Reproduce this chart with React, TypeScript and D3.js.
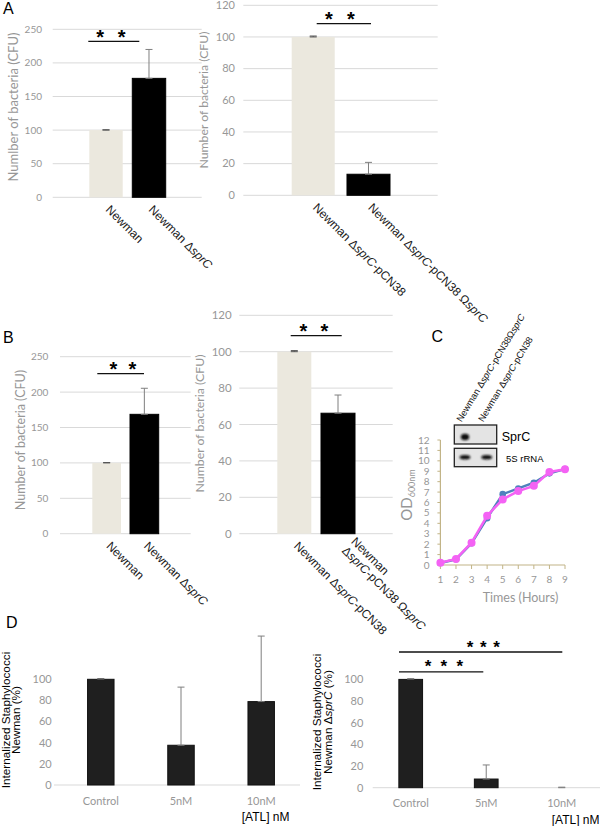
import React from 'react';
import * as d3 from 'd3';

// ---------- data ----------
const aLeftCats = ['Newman', 'Newman ΔsprC'];
const aLeftValues = [100, 177];
const aLeftErrors = [0.5, 43];

const aRightCats = ['Newman ΔsprC-pCN38', 'Newman ΔsprC-pCN38 ΩsprC'];
const aRightValues = [100, 13.3];
const aRightErrors = [0.6, 7.5];

const bLeftCats = ['Newman', 'Newman ΔsprC'];
const bLeftValues = [100, 168.6];
const bLeftErrors = [0.5, 36.8];

const bRightCats = ['Newman ΔsprC-pCN38', 'Newman\nΔsprC-pCN38 ΩsprC'];
const bRightValues = [100, 66.2];
const bRightErrors = [0.6, 10];

const ticks250 = [0, 50, 100, 150, 200, 250];
const ticks120 = [0, 20, 40, 60, 80, 100, 120];
const ticksPct = [0, 20, 40, 60, 80, 100];

const cHours = [1, 2, 3, 4, 5, 6, 7, 8, 9];
const cBlue = [0.2, 0.55, 2.1, 4.5, 6.8, 7.35, 7.9, 8.8, 9.2];
const cMagenta = [0.22, 0.58, 2.14, 4.73, 6.3, 7.1, 7.6, 8.93, 9.2];
const odTicks = [0, 1, 2, 3, 4, 5, 6, 7, 8, 9, 10, 11, 12];
const blotLanes = ['Newman ΔsprC-pCN38ΩsprC', 'Newman ΔsprC-pCN38'];

const dCats = ['Control', '5nM', '10nM'];
const dLeftValues = [100, 37.6, 78.9];
const dLeftErrors = [0.5, 55, 62];
const dRightValues = [100, 8, 0];
const dRightErrors = [0.5, 13, 0.5];

// ---------- styles ----------
const F_TICK = 'Lato, "Open Sans", sans-serif';
const F_ARIAL = '"Liberation Sans", Arial, sans-serif';
const GRAY = '#979797';
const GRID = '#d9d9d9';
const BEIGE = '#ebe8de';
const ERR = '#7f7f7f';

function Rich({ s }: { s: string }) {
  const parts = s.split(/(sprC)/);
  return (
    <>
      {parts.map((p, i) =>
        p === 'sprC' ? (
          <tspan key={i} fontStyle="italic">{p}</tspan>
        ) : (
          <tspan key={i}>{p}</tspan>
        )
      )}
    </>
  );
}

function Sig({ x1, x2, y, n, cx, spacing, size }: any) {
  const stars = d3.range(n).map((i) => cx + (i - (n - 1) / 2) * spacing);
  return (
    <g>
      <line x1={x1} x2={x2} y1={y} y2={y} stroke="#111" strokeWidth={1.3} />
      {stars.map((sx, i) => (
        <text key={i} x={sx} y={y - 8.7} dy="0.55em" textAnchor="middle" fontFamily={F_ARIAL}
          fontWeight="bold" fontSize={size} fill="#000">*</text>
      ))}
    </g>
  );
}

function ErrorBar({ cx, yv, ye, color }: any) {
  return (
    <g stroke={color} strokeWidth={1}>
      <line x1={cx} x2={cx} y1={yv} y2={ye} />
      <line x1={cx - 3.5} x2={cx + 3.5} y1={yv} y2={yv} />
      <line x1={cx - 3.5} x2={cx + 3.5} y1={ye} y2={ye} />
    </g>
  );
}

type CFUProps = {
  cats: string[]; values: number[]; errors: number[]; ticks: number[];
  yMax: number; y0: number; yTop: number;
  gridX1: number; gridX2: number; barX1: number; barX2: number; pad: number;
  tickRight: number; tickSize: number;
  title: string; titleX: number; titleY: number; titleSize: number;
  labelOffsets: [number, number][];
  sig: { v: number; x1: number; x2: number; cx: number; spacing: number };
};

function CFUPanel(p: CFUProps) {
  const y = d3.scaleLinear().domain([0, p.yMax]).range([p.y0, p.yTop]);
  const x = d3.scaleBand<string>().domain(p.cats).range([p.barX1, p.barX2]).paddingInner(p.pad);
  const bw = x.bandwidth();
  const colors = [BEIGE, '#000'];
  return (
    <g>
      {p.ticks.map((t) => (
        <line key={'g' + t} x1={p.gridX1} x2={p.gridX2} y1={y(t)} y2={y(t)} stroke={GRID} strokeWidth={1} />
      ))}
      {p.ticks.map((t) => (
        <text key={'t' + t} x={p.tickRight} y={y(t)} dy="0.35em" textAnchor="end"
          fontFamily={F_TICK} fontSize={p.tickSize} fill={GRAY}>{t}</text>
      ))}
      <text transform={`translate(${p.titleX},${p.titleY}) rotate(-90)`} dy="0.35em" textAnchor="middle"
        fontFamily={F_TICK} fontSize={p.titleSize} fill={GRAY}>{p.title}</text>
      {p.cats.map((c, i) => (
        <rect key={'b' + c} x={x(c)} y={y(p.values[i])} width={bw} height={p.y0 - y(p.values[i])}
          fill={colors[i]} stroke={i === 1 ? '#000' : 'none'} />
      ))}
      {p.cats.map((c, i) => (
        <ErrorBar key={'e' + c} cx={(x(c) as number) + bw / 2} yv={y(p.values[i])}
          ye={y(p.values[i] + p.errors[i])} color={i === 0 ? '#555' : ERR} />
      ))}
      {p.cats.map((c, i) => {
        const cx = (x(c) as number) + bw / 2;
        const [dx, dy] = p.labelOffsets[i];
        const lines = c.split('\n');
        return (
          <text key={'l' + c} transform={`translate(${cx + dx},${p.y0 + dy}) rotate(45)`}
            fontFamily={F_ARIAL} fontSize={12} fill="#1a1a1a">
            {lines.map((ln, li) => (
              <tspan key={li} x={0} dy={li === 0 ? 0 : 13}><Rich s={ln} /></tspan>
            ))}
          </text>
        );
      })}
      <Sig x1={p.sig.x1} x2={p.sig.x2} y={y(p.sig.v)} n={2} cx={p.sig.cx} spacing={p.sig.spacing} size={20} />
    </g>
  );
}

function GrowthPanel() {
  const x = d3.scaleLinear().domain([1, 9]).range([440.4, 565]);
  const y = d3.scaleLinear().domain([0, 12]).range([565, 440]);
  const line = d3.line<number>().x((_, i) => x(cHours[i])).y((d) => y(d));
  const AX = '#c2b487';
  const laneX = [465, 486.7];
  return (
    <g>
      <defs>
        <filter id="blur" x="-50%" y="-50%" width="200%" height="200%">
          <feGaussianBlur stdDeviation="1.1" />
        </filter>
      </defs>
      <line x1={x(1)} x2={x(1)} y1={y(12)} y2={y(0)} stroke={AX} strokeWidth={1.2} />
      <line x1={x(1)} x2={x(9)} y1={y(0)} y2={y(0)} stroke={AX} strokeWidth={1.2} />
      {odTicks.map((t) => (
        <g key={'y' + t}>
          <line x1={x(1) - 3} x2={x(1)} y1={y(t)} y2={y(t)} stroke={AX} />
          <text x={429.5} y={y(t)} dy="0.35em" textAnchor="end" fontFamily={F_TICK} fontSize={10} fill={GRAY}>{t}</text>
        </g>
      ))}
      {cHours.map((h) => (
        <g key={'x' + h}>
          <line x1={x(h)} x2={x(h)} y1={y(0)} y2={y(0) + 4} stroke={AX} />
          <text x={x(h)} y={583} textAnchor="middle" fontFamily={F_TICK} fontSize={10} fill={GRAY}>{h}</text>
        </g>
      ))}
      <text x={520.5} y={601.5} textAnchor="middle" fontFamily={F_TICK} fontSize={12.5} fill={GRAY}>Times (Hours)</text>
      <text transform="translate(411.5,495) rotate(-90)" textAnchor="middle" fontFamily={F_TICK} fontSize={15} fill={GRAY}>
        OD<tspan fontSize={9} dy={3}>600nm</tspan>
      </text>
      <path d={line(cBlue) as string} fill="none" stroke="#4f81bd" strokeWidth={2.5} />
      {cBlue.map((v, i) => (
        <circle key={'cb' + i} cx={x(cHours[i])} cy={y(v)} r={3.3} fill="#4f81bd" />
      ))}
      <path d={line(cMagenta) as string} fill="none" stroke="#f462f4" strokeWidth={2.5} />
      {cMagenta.map((v, i) => (
        <circle key={'cm' + i} cx={x(cHours[i])} cy={y(v)} r={4} fill="#f462f4" />
      ))}
      <rect x={454.3} y={425} width={42.4} height={19} fill="#e4e4e4" stroke="#222" strokeWidth={1.3} />
      <rect x={454.3} y={448.3} width={42.4} height={18.4} fill="#e4e4e4" stroke="#222" strokeWidth={1.3} />
      <ellipse cx={laneX[0]} cy={437} rx={4.2} ry={3.3} fill="#111" filter="url(#blur)" />
      {laneX.map((lx, i) => (
        <ellipse key={'band' + i} cx={lx} cy={457.3} rx={5.3} ry={2.2} fill="#111" filter="url(#blur)" />
      ))}
      <text x={501.7} y={441} fontFamily={F_ARIAL} fontSize={12.5} fill="#000">SprC</text>
      <text x={506} y={461.5} fontFamily={F_ARIAL} fontSize={9.5} fill="#000">5S rRNA</text>
      {blotLanes.map((l, i) => (
        <text key={'lane' + i} transform={`translate(${laneX[i] - 3.5},${422.5}) rotate(-59)`}
          fontFamily={F_ARIAL} fontSize={9.3} fill="#111"><Rich s={l} /></text>
      ))}
    </g>
  );
}

type DProps = {
  values: number[]; errors: number[]; y0: number; yTop: number;
  baseX1: number; baseX2: number; catX1: number; catX2: number; padInner: number;
  tickRight: number; labelY: number; atlX: number; atlY: number;
  titleLines: string[]; titleX: number[]; titleY: number;
  sigs?: { v: number; x1: number; x2: number; cx: number; spacing: number }[];
};

function DPanel(p: DProps) {
  const y = d3.scaleLinear().domain([0, 100]).range([p.y0, p.yTop]);
  const x = d3.scaleBand<string>().domain(dCats).range([p.catX1, p.catX2])
    .paddingInner(p.padInner).paddingOuter(p.padInner / 2);
  const bw = x.bandwidth();
  return (
    <g>
      <line x1={p.baseX1} x2={p.baseX2} y1={p.y0} y2={p.y0} stroke={GRID} strokeWidth={1} />
      {ticksPct.map((t) => (
        <text key={'t' + t} x={p.tickRight} y={y(t)} dy="0.35em" textAnchor="end"
          fontFamily={F_TICK} fontSize={11} fill={GRAY}>{t}</text>
      ))}
      {dCats.map((c, i) => (
        p.values[i] > 0 ? (
          <rect key={'b' + c} x={x(c)} y={y(p.values[i])} width={bw} height={p.y0 - y(p.values[i])}
            fill="#1f1f1f" stroke="#111" />
        ) : null
      ))}
      {dCats.map((c, i) => (
        <ErrorBar key={'e' + c} cx={(x(c) as number) + bw / 2} yv={y(p.values[i])}
          ye={y(p.values[i] + p.errors[i])} color={i === 0 ? '#555' : ERR} />
      ))}
      {dCats.map((c) => (
        <text key={'l' + c} x={(x(c) as number) + bw / 2} y={p.labelY} textAnchor="middle"
          fontFamily={F_TICK} fontSize={11} fill={GRAY}>{c}</text>
      ))}
      <text x={p.atlX} y={p.atlY} fontFamily={F_ARIAL} fontSize={12} fill="#000">[ATL] nM</text>
      {p.titleLines.map((t, i) => (
        <text key={'tt' + i} transform={`translate(${p.titleX[i]},${p.titleY}) rotate(-90)`} dy="0.35em"
          textAnchor="middle" fontFamily={F_ARIAL} fontSize={11.75} fill="#000"><Rich s={t} /></text>
      ))}
      {(p.sigs || []).map((s, i) => (
        <Sig key={'s' + i} x1={s.x1} x2={s.x2} y={y(s.v)} n={3} cx={s.cx} spacing={s.spacing} size={17} />
      ))}
    </g>
  );
}

function PanelLetter({ x, y, t }: { x: number; y: number; t: string }) {
  return <text x={x} y={y} fontFamily={F_ARIAL} fontSize={16} fill="#000">{t}</text>;
}

export default function App() {
  return (
    <svg width={600} height={826} viewBox="0 0 600 826"
      style={{ position: 'absolute', left: 0, top: 0, background: '#fff' }}>
      <rect x={0} y={0} width={600} height={826} fill="#fff" />
      <PanelLetter x={3} y={14} t="A" />
      <PanelLetter x={3} y={343} t="B" />
      <PanelLetter x={431.5} y={341.5} t="C" />
      <PanelLetter x={6} y={628} t="D" />

      <CFUPanel cats={aLeftCats} values={aLeftValues} errors={aLeftErrors} ticks={ticks250}
        yMax={250} y0={197.3} yTop={29.3} gridX1={52.7} gridX2={201.7} barX1={89.3} barX2={165.7} pad={0.223}
        tickRight={42} tickSize={10} title="Numlber of bacteria (CFU)" titleX={13.3} titleY={107} titleSize={13}
        labelOffsets={[[-1, 13], [-1, 13]]}
        sig={{ v: 232, x1: 88.3, x2: 139.3, cx: 110.9, spacing: 21.7 }} />

      <CFUPanel cats={aRightCats} values={aRightValues} errors={aRightErrors} ticks={ticks120}
        yMax={120} y0={195.3} yTop={5.3} gridX1={243.3} gridX2={437.7} barX1={291.7} barX2={390} pad={0.222}
        tickRight={235} tickSize={11} title="Number of bacteria (CFU)" titleX={203.8} titleY={100} titleSize={12.2}
        labelOffsets={[[-1, 13], [-1, 13]]}
        sig={{ v: 108.4, x1: 316.7, x2: 371, cx: 340, spacing: 22 }} />

      <CFUPanel cats={bLeftCats} values={bLeftValues} errors={bLeftErrors} ticks={ticks250}
        yMax={250} y0={533.7} yTop={356.7} gridX1={60} gridX2={190.7} barX1={92.3} barX2={158.7} pad={0.239}
        tickRight={48.3} tickSize={10} title="Number of bacteria (CFU)" titleX={20.5} titleY={440} titleSize={12.5}
        labelOffsets={[[-1, 13], [-1, 13]]}
        sig={{ v: 226, x1: 97.3, x2: 144, cx: 122.8, spacing: 19 }} />

      <CFUPanel cats={bRightCats} values={bRightValues} errors={bRightErrors} ticks={ticks120}
        yMax={120} y0={533.7} yTop={315.3} gridX1={239.3} gridX2={392.7} barX1={277.3} barX2={355} pad={0.222}
        tickRight={231.7} tickSize={11.5} title="Number of bacteria (CFU)" titleX={199.5} titleY={423.5} titleSize={12.3}
        labelOffsets={[[-1, 13], [12.5, 8.5]]}
        sig={{ v: 108.8, x1: 290.7, x2: 341.7, cx: 313.8, spacing: 21 }} />

      <GrowthPanel />

      <DPanel values={dLeftValues} errors={dLeftErrors} y0={785} yTop={679.3}
        baseX1={54} baseX2={300} catX1={60.7} catX2={301.3} padInner={0.67}
        tickRight={51.7} labelY={805} atlX={241.7} atlY={821}
        titleLines={['Internalized Staphylococci', 'Newman (%)']} titleX={[5.6, 15.8]} titleY={720} />

      <DPanel values={dRightValues} errors={dRightErrors} y0={787.7} yTop={679.4}
        baseX1={372.7} baseX2={600} catX1={372.95} catX2={599.5} padInner={0.686}
        tickRight={363.3} labelY={807} atlX={551.7} atlY={824.3}
        titleLines={['Internalized Staphylococci', 'Newman ΔsprC (%)']} titleX={[317.3, 328.3]} titleY={722}
        sigs={[
          { v: 125.3, x1: 399, x2: 562.3, cx: 483.3, spacing: 13.3 },
          { v: 107, x1: 399, x2: 483.3, cx: 443.9, spacing: 15.8 },
        ]} />
    </svg>
  );
}
